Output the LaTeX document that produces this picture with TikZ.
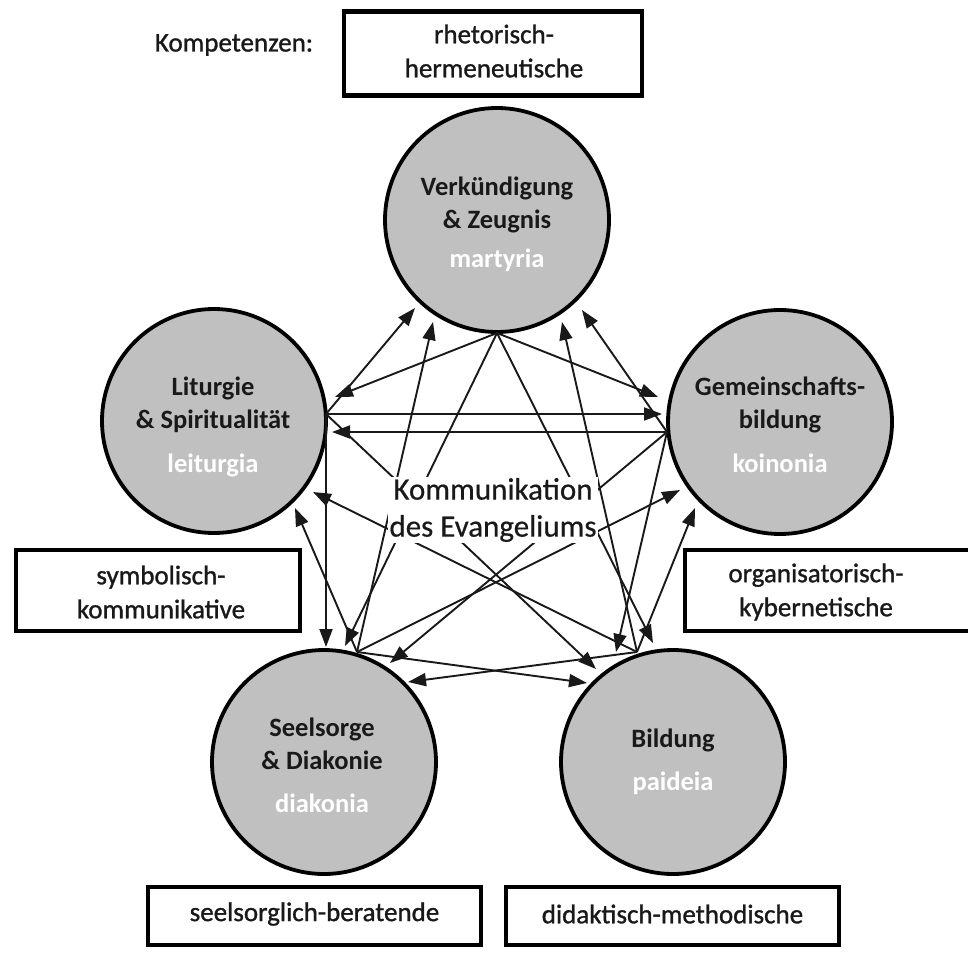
\documentclass[tikz,border=0pt]{standalone}
\usepackage{fontspec}
\setmainfont{Carlito}
\newfontfamily\boxfont[FakeBold=1.1]{Carlito}
\newfontfamily\midfont[FakeBold=0.5]{Carlito}
\usetikzlibrary{arrows.meta}
\definecolor{circfill}{RGB}{192,192,192}
\definecolor{ink}{RGB}{25,25,25}
\begin{document}
\begin{tikzpicture}[x=1pt,y=-1pt,
  circ/.style={circle,draw=black,line width=3.8pt,fill=circfill,minimum size=224pt,inner sep=0pt},
  lbl/.style={font=\fontsize{26.5}{33}\selectfont\bfseries,align=center,inner sep=0pt,text=ink},
  grk/.style={font=\fontsize{26.5}{33}\selectfont\bfseries,text=white,inner sep=0pt},
  arr/.style={line width=1.9pt,draw=ink,-{Triangle[length=18pt,width=13pt]}},
  kbox/.style={draw=black,line width=4.5pt,fill=white,inner sep=0pt},
  ktext/.style={font=\boxfont\fontsize{27}{34}\selectfont,align=center,inner sep=0pt,text=ink},
  ctext/.style={font=\midfont\fontsize{31}{37}\selectfont,align=center,fill=white,inner sep=1pt,text=ink},
]
\useasboundingbox (0,0) rectangle (968,952);

% circles
\node[circ] (T) at (497,220) {};
\node[circ] (L) at (214,421) {};
\node[circ] (R) at (780,422) {};
\node[circ] (S) at (324,762) {};
\node[circ] (B) at (673,762) {};

\node[lbl] (Tl) at (497,205) {Verkündigung\\\& Zeugnis};
\node[grk] (Tg) at (497,260) {martyria};
\node[lbl] (Ll) at (213,405) {Liturgie\\\& Spiritualität};
\node[grk] (Lg) at (213,465) {leiturgia};
\node[lbl] (Rl) at (780,405) {Gemeinschafts-\\bildung};
\node[grk] (Rg) at (780,463) {koinonia};
\node[lbl] (Sl) at (322,744) {Seelsorge\\\& Diakonie};
\node[grk] (Sg) at (322,803) {diakonia};
\node[lbl] (Bl) at (673,740) {Bildung};
\node[grk] (Bg) at (673,783) {paideia};

% competence boxes
\node[ktext] (komp) at (234,45) {Kompetenzen:};
\node[kbox,minimum width=298pt,minimum height=84pt] (kT) at (493,53.5) {};
\node[ktext] (kTt) at (494,51) {rhetorisch-\\hermeneutische};
\node[kbox,minimum width=284pt,minimum height=81pt] (kL) at (158,590.5) {};
\node[ktext] (kLt) at (161,592) {symbolisch-\\kommunikative};
\node[kbox,minimum width=290pt,minimum height=81pt] (kR) at (830,590.5) {};
\node[ktext] (kRt) at (816,592) {organisatorisch-\\kybernetische};
\node[kbox,minimum width=333pt,minimum height=58pt] (kS) at (314.5,916) {};
\node[ktext] (kSt) at (314.5,914) {seelsorglich-beratende};
\node[kbox,minimum width=333pt,minimum height=58pt] (kB) at (672.5,916) {};
\node[ktext] (kBt) at (672.5,914) {didaktisch-methodische};

% hubs
\coordinate (hT) at (497,333);
\coordinate (hL) at (326,414);
\coordinate (hR) at (667,432);
\coordinate (hS) at (357,652);
\coordinate (hB) at (637,652);
% arrow tips
\coordinate (tTL) at (335,397);
\coordinate (tTR) at (658,397);
\coordinate (tTS) at (345,646);
\coordinate (tTB) at (653,643);
\coordinate (tLT) at (415,308);
\coordinate (tLR) at (662,414);
\coordinate (tLS) at (326,647);
\coordinate (tLB) at (596,669);
\coordinate (tRT) at (582,310);
\coordinate (tRL) at (332,432);
\coordinate (tRS) at (390,663);
\coordinate (tRB) at (616,652);
\coordinate (tST) at (433,322);
\coordinate (tSL) at (295,508);
\coordinate (tSR) at (680,490);
\coordinate (tSB) at (587,683);
\coordinate (tBT) at (562,322);
\coordinate (tBL) at (313,492);
\coordinate (tBR) at (695,508);
\coordinate (tBS) at (408,682);

\draw[arr] (hT) -- (tTL);
\draw[arr] (hT) -- (tTR);
\draw[arr] (hT) -- (tTS);
\draw[arr] (hT) -- (tTB);
\draw[arr] (hL) -- (tLT);
\draw[arr] (hL) -- (tLR);
\draw[arr] (hL) -- (tLS);
\draw[arr] (hL) -- (tLB);
\draw[arr] (hR) -- (tRT);
\draw[arr] (hR) -- (tRL);
\draw[arr] (hR) -- (tRS);
\draw[arr] (hR) -- (tRB);
\draw[arr] (hS) -- (tST);
\draw[arr] (hS) -- (tSL);
\draw[arr] (hS) -- (tSR);
\draw[arr] (hS) -- (tSB);
\draw[arr] (hB) -- (tBT);
\draw[arr] (hB) -- (tBL);
\draw[arr] (hB) -- (tBR);
\draw[arr] (hB) -- (tBS);

\node[ctext] (C) at (493,510) {Kommunikation\\des Evangeliums};
\end{tikzpicture}
\end{document}
